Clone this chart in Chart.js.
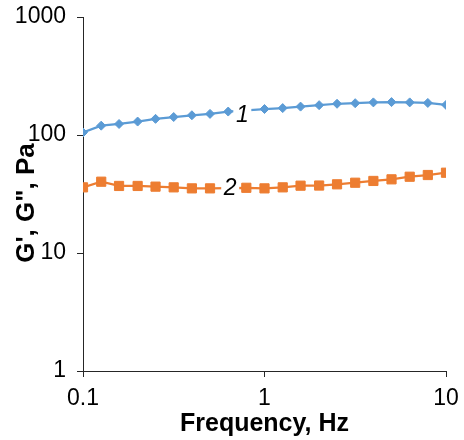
<!DOCTYPE html>
<html>
<head>
<meta charset="utf-8">
<script src="https://cdn.jsdelivr.net/npm/chart.js@4"></script>
<style>
    html, body { margin: 0; padding: 0; background: #ffffff; }
    #wrap { width: 464px; height: 440px; }
</style>
</head>
<body>
<div id="wrap"><canvas id="modulusChart"></canvas></div>
<script>
const frequencies = [0.1, 0.126, 0.158, 0.2, 0.251, 0.316, 0.398, 0.501, 0.631, 0.794,
    1, 1.26, 1.58, 2, 2.51, 3.16, 3.98, 5.01, 6.31, 7.94, 10];
// curve 1 (blue diamonds)
const curveOne = [105, 120, 124, 130, 137, 142, 147, 151, 158, 162,
    166, 169, 174, 179, 184, 186, 189, 190, 189, 187, 180];
// curve 2 (orange squares)
const curveTwo = [36, 40.2, 37, 37, 36.5, 36, 35.3, 35.3, 35.4, 35.7,
    35.3, 36, 37.2, 37.3, 38.2, 39.4, 40.8, 42.1, 44.3, 45.8, 47.9];
const xTicks = [0.1, 1, 10];
const yTicks = [1, 10, 100, 1000];
const curveNames = ["1", "2"];
// which point each curve label sits on
const labelPoints = [9, 8];
const yTitle = "G', G\", Pa";

const FONT = "'Liberation Sans', Arial, sans-serif";
const AXIS_COLOR = "#262626";

function toPoints(values) {
    return values.map((v, i) => ({ x: frequencies[i], y: v }));
}

// drop the extra room chart.js reserves for overhanging tick labels,
// the layout padding already leaves enough
function clearLabelPadding(scale) {
    scale.paddingTop = 0;
    scale.paddingBottom = 0;
    scale.paddingLeft = 0;
    scale.paddingRight = 0;
}

// italic "1" / "2" in a white box over the curves, plus the y title
// (drawn by hand because it sits a bit below the axis middle)
const curveLabelPlugin = {
    id: "curveLabels",
    afterDatasetsDraw(chart) {
        const ctx = chart.ctx;
        const offsets = [{ dx: -4, dy: 5 }, { dx: 2, dy: 0 }];
        ctx.save();
        ctx.font = `italic 23px ${FONT}`;
        ctx.textAlign = "center";
        ctx.textBaseline = "middle";
        curveNames.forEach((name, i) => {
            const pt = chart.getDatasetMeta(i).data[labelPoints[i]];
            const x = pt.x + offsets[i].dx;
            const y = pt.y + offsets[i].dy;
            ctx.fillStyle = "#ffffff";
            ctx.fillRect(x - 9, y - 12, 18, 24);
            ctx.fillStyle = "#000000";
            ctx.fillText(name, x, y);
        });

        const area = chart.chartArea;
        ctx.translate(27, (area.top + area.bottom) / 2 + 9);
        ctx.rotate(-Math.PI / 2);
        ctx.font = `bold 26px ${FONT}`;
        ctx.fillText(yTitle, 0, 0);
        ctx.restore();
    },
};

const ctx = document.getElementById("modulusChart").getContext("2d");
new Chart(ctx, {
    type: "line",
    data: {
        datasets: [
            {
                data: toPoints(curveOne),
                borderColor: "#5B9BD5",
                backgroundColor: "#5B9BD5",
                borderWidth: 2.25,
                pointStyle: "rectRot",
                pointRadius: 4.5,
                pointBorderWidth: 1,
                tension: 0,
            },
            {
                data: toPoints(curveTwo),
                borderColor: "#ED7D31",
                backgroundColor: "#ED7D31",
                borderWidth: 2.25,
                pointStyle: "rect",
                pointRadius: 6.5,
                pointBorderWidth: 1,
                tension: 0,
            },
        ],
    },
    options: {
        responsive: true,
        maintainAspectRatio: false,
        animation: false,
        events: [],
        layout: { padding: { top: 17, right: 18, left: 0, bottom: 0 } },
        plugins: {
            legend: { display: false },
            tooltip: { enabled: false },
        },
        scales: {
            x: {
                type: "logarithmic",
                min: 0.1,
                max: 10,
                afterBuildTicks: (scale) => {
                    scale.ticks = xTicks.map((v) => ({ value: v }));
                },
                afterFit: (scale) => {
                    scale.height = 69;
                    clearLabelPadding(scale);
                },
                ticks: {
                    color: "#000000",
                    font: { family: FONT, size: 23 },
                    padding: 8,
                    maxRotation: 0,
                    callback: (value) => String(value),
                },
                grid: {
                    drawOnChartArea: false,
                    drawTicks: true,
                    tickLength: 6,
                    color: AXIS_COLOR,
                },
                border: { color: AXIS_COLOR, width: 1 },
                title: {
                    display: true,
                    text: "Frequency, Hz",
                    color: "#000000",
                    font: { family: FONT, size: 25, weight: "bold" },
                    padding: { top: 0, bottom: 1 },
                },
            },
            y: {
                type: "logarithmic",
                min: 1,
                max: 1000,
                afterBuildTicks: (scale) => {
                    scale.ticks = yTicks.map((v) => ({ value: v }));
                },
                afterFit: (scale) => {
                    scale.width = 83;
                    clearLabelPadding(scale);
                },
                ticks: {
                    color: "#000000",
                    font: { family: FONT, size: 23 },
                    padding: 11,
                    callback: (value) => String(value),
                },
                grid: {
                    drawOnChartArea: false,
                    drawTicks: true,
                    tickLength: 6,
                    color: AXIS_COLOR,
                },
                border: { color: AXIS_COLOR, width: 1 },
            },
        },
    },
    plugins: [curveLabelPlugin],
});
</script>
</body>
</html>
